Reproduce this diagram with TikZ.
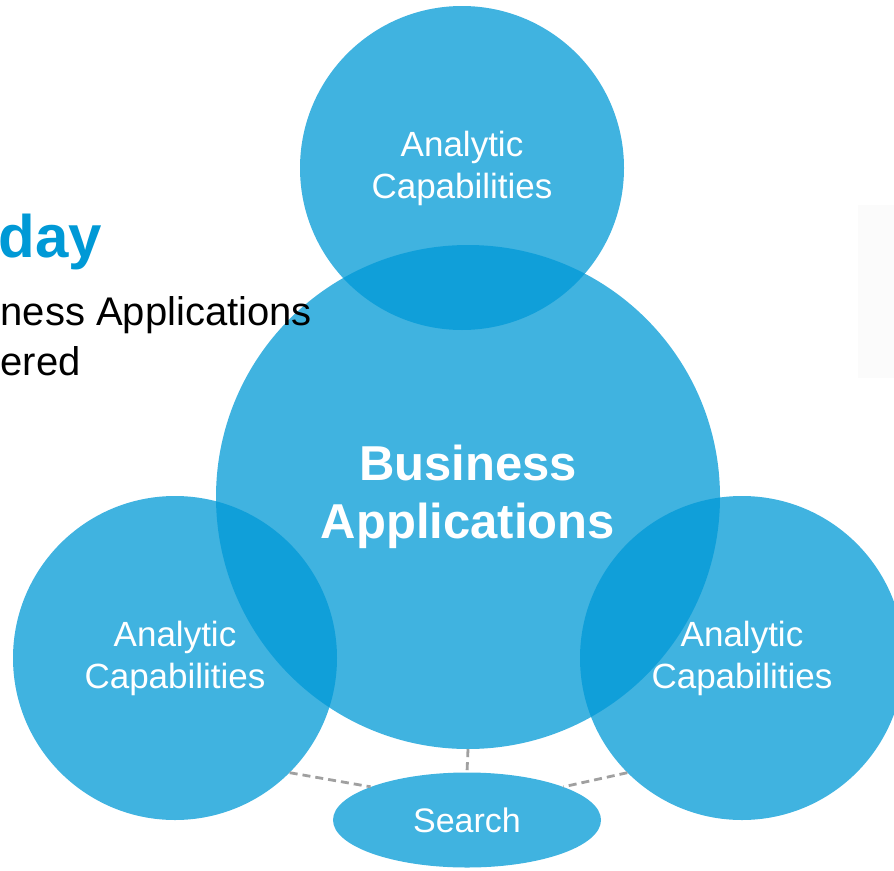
\documentclass[tikz,border=0pt]{standalone}
\usepackage{fontspec}
\setmainfont{Liberation Sans}
\usetikzlibrary{shapes.geometric}
\definecolor{bubbleblue}{RGB}{0,153,214}
\definecolor{dashgray}{RGB}{160,160,160}

\begin{document}
\begin{tikzpicture}[x=1pt,y=-1pt,
roundnode/.style={circle, fill=bubbleblue, fill opacity=0.75, text opacity=1, text=white, inner sep=0pt, minimum size=324pt, align=center, font=\fontsize{35}{42}\selectfont},
bignode/.style={roundnode, minimum size=504pt, font=\fontsize{49}{58}\selectfont\bfseries},
ovalnode/.style={ellipse, fill=bubbleblue, fill opacity=0.75, text opacity=1, text=white, inner sep=0pt, minimum width=268pt, minimum height=95pt, font=\fontsize{34}{40}\selectfont},
linkline/.style={dashgray, line width=2.8pt, dash pattern=on 8pt off 5pt},
]
\useasboundingbox (0,0) rectangle (894,870);
\clip (0,0) rectangle (894,870);
\fill[black!1.5] (858,205) rectangle (894,378);

%Nodes
\node[roundnode]   (topcap)   at (462,168) {Analytic\\Capabilities};
\node[bignode]     (business) at (468,497) {Business\\Applications};
\node[roundnode]   (leftcap)  at (175,658) {Analytic\\Capabilities};
\node[roundnode]   (rightcap) at (742,658) {Analytic\\Capabilities};
\node[ovalnode]    (search)   at (467,820) {Search};

\node[anchor=base east, inner sep=0pt, text=bubbleblue, font=\fontsize{60}{70}\selectfont\bfseries] (title) at (102,257) {day};
\node[anchor=base west, inner sep=0pt, font=\fontsize{40}{50}\selectfont] (intro) at (0.5,325) {ness Applications};
\node[anchor=base west, inner sep=0pt, font=\fontsize{40}{50}\selectfont] (introtwo) at (0.5,375) {ered};

%Lines
\draw[linkline] (leftcap.-45) -- (search.161);
\draw[linkline] (business.south) -- (search.north);
\draw[linkline] (rightcap.-135) -- (search.19);

\end{tikzpicture}
\end{document}
